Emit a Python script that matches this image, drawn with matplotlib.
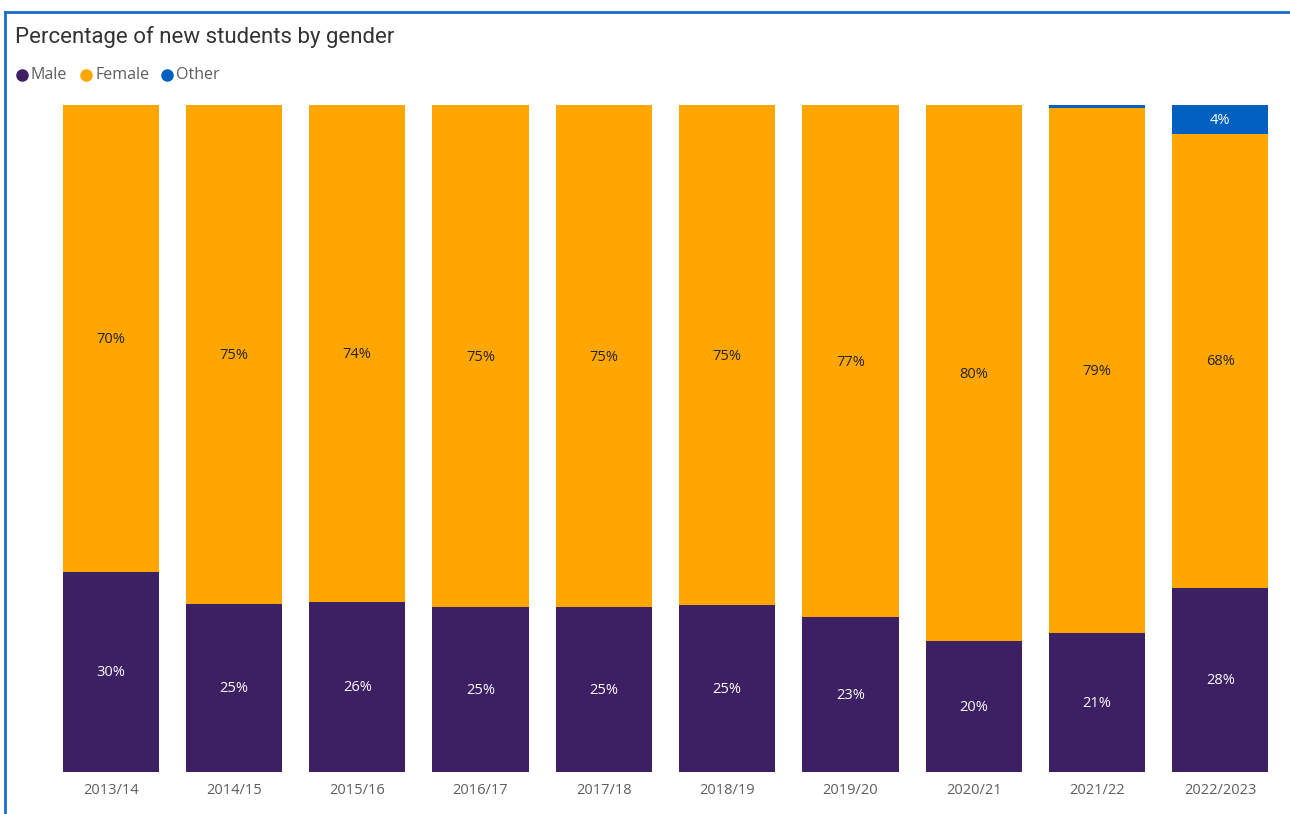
import matplotlib
matplotlib.use("Agg")
import matplotlib.pyplot as plt
from matplotlib.lines import Line2D
import numpy as np

# Academic years and share of new students (%) by gender
years = ["2013/14", "2014/15", "2015/16", "2016/17", "2017/18",
         "2018/19", "2019/20", "2020/21", "2021/22", "2022/2023"]
male = [30.0, 25.2, 25.5, 24.7, 24.7, 25.0, 23.2, 19.6, 20.8, 27.6]
female = [70.0, 74.8, 74.5, 75.3, 75.3, 75.0, 76.8, 80.4, 78.8, 68.1]
other = [0.0, 0.0, 0.0, 0.0, 0.0, 0.0, 0.0, 0.0, 0.4, 4.3]

series_names = ["Male", "Female", "Other"]
series_colors = ["#3D1F63", "#FFA600", "#0060C0"]
label_colors = ["white", "#252423", "white"]

W, H = 1290, 814
fig = plt.figure(figsize=(W / 100, H / 100), dpi=100)
fig.patch.set_facecolor("white")

# visual frame border (top and left edges)
fig.add_artist(Line2D([5 / W, 5 / W], [0, 1 - 12 / H], color="#1A6BCC", lw=2))
fig.add_artist(Line2D([5 / W, 1], [1 - 12 / H, 1 - 12 / H], color="#1A6BCC", lw=2))

ax = fig.add_axes([49 / W, 42 / H, (1282 - 49) / W, 667 / H])
x = np.arange(len(years))
width = 0.78

bottom = np.zeros(len(years))
for name, vals, col, lc in zip(series_names, [male, female, other], series_colors, label_colors):
    vals = np.array(vals)
    ax.bar(x, vals, width, bottom=bottom, color=col, edgecolor="none")
    for xi, b, v in zip(x, bottom, vals):
        if v >= 2:
            ax.text(xi, b + v / 2 - 0.15, f"{v:.0f}%", ha="center", va="center",
                    color=lc, fontsize=10.5, family="Open Sans")
    bottom += vals

ax.set_xlim(-0.5, len(years) - 0.5)
ax.set_ylim(0, 100)
ax.set_xticks(x)
ax.set_xticklabels(years, fontsize=10.5, color="#605E5C", family="Open Sans")
ax.tick_params(axis="x", length=0, pad=8)
ax.set_yticks([])
for s in ax.spines.values():
    s.set_visible(False)

fig.text(15 / W, 1 - 37 / H, "Percentage of new students by gender",
         fontsize=16, color="#333333", family="Roboto", va="center", ha="left")

# legend row
lx = [22, 86, 167]
for px, name, col in zip(lx, series_names, series_colors):
    fig.add_artist(Line2D([px / W], [1 - 75 / H], marker="o", markersize=8,
                          color=col, linestyle="none"))
    fig.text((px + 9) / W, 1 - 75 / H, name, fontsize=11.5, color="#605E5C",
             family="Open Sans", va="center", ha="left")

fig.savefig("out.png", dpi=100, facecolor="white")
